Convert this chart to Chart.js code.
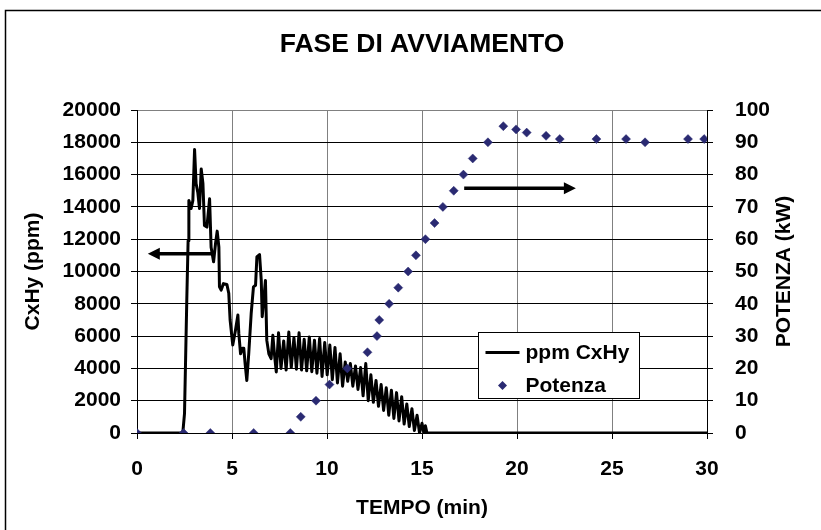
<!DOCTYPE html>
<html>
<head>
<meta charset="utf-8">
<script src="https://cdn.jsdelivr.net/npm/chart.js@4.4.1/dist/chart.umd.min.js"></script>
<style>
html,body{margin:0;padding:0;background:#fff;}
#wrap{width:821px;height:530px;position:relative;}
</style>
</head>
<body>
<div id="wrap"><canvas id="c" width="821" height="530"></canvas></div>
<script>
// ---------- DATA ----------
const chartTitle = 'FASE DI AVVIAMENTO';
const xAxisTitle = 'TEMPO (min)';
const leftAxisTitle = 'CxHy (ppm)';
const rightAxisTitle = 'POTENZA (kW)';
const ppmLabel = 'ppm CxHy';
const powerLabel = 'Potenza';

const ppmTime = [0, 2.41, 2.50, 2.55, 2.62, 2.69, 2.73, 2.85, 2.94, 3.03, 3.11, 3.20, 3.29, 3.38, 3.47, 3.55, 3.68, 3.82, 3.90,
  4.03, 4.13, 4.22, 4.31, 4.34, 4.43, 4.55, 4.73, 4.83, 4.90, 5.04, 5.18, 5.31, 5.36, 5.45, 5.55, 5.62, 5.69, 5.78, 5.88,
  6.01, 6.13, 6.24, 6.31, 6.45, 6.54, 6.59, 6.69, 6.76, 6.83, 6.94, 7.06, 7.15, 7.24, 7.33,
  7.45, 7.58, 7.72, 7.85, 7.99, 8.12, 8.26, 8.39, 8.53, 8.66, 8.80, 8.93, 9.07, 9.20, 9.34, 9.47, 9.61, 9.74, 9.88,
  10.01, 10.15, 10.28, 10.42, 10.55, 10.69, 10.82, 10.96, 11.09, 11.23, 11.36, 11.50, 11.63, 11.77, 11.90,
  12.04, 12.17, 12.31, 12.44, 12.58, 12.71, 12.85, 12.98, 13.12, 13.25, 13.39, 13.52, 13.66, 13.79, 13.93,
  14.06, 14.20, 14.33, 14.47, 14.60, 14.74, 14.87, 15.00, 15.10, 15.18, 15.26, 30];
const ppmValues = [0, 0, 1200, 4100, 8200, 11900, 14400, 13900, 14400, 17550, 15450, 14900, 13900, 16350, 15450, 12850, 12750, 14500, 11500,
  10600, 11700, 12500, 11500, 9050, 8850, 9250, 9200, 8650, 7000, 5450, 6350, 7300, 6150, 4900, 5250, 5250, 4300, 3250, 4900,
  7400, 9050, 9150, 10900, 11050, 9450, 7200, 8500, 9450, 5750, 4900, 4600, 6050, 4800, 3780,
  6200, 4000, 5700, 3900, 6250, 4050, 5900, 3950, 6200, 3900, 5800, 3850, 5950, 3800, 5750, 3700, 5850, 3500, 5600,
  3600, 5450, 3300, 5300, 3100, 4900, 2900, 4400, 3200, 4300, 2900, 4150, 2700, 4050, 2300,
  4300, 2000, 3600, 1900, 3250, 1650, 3000, 1400, 2800, 1100, 2650, 900, 2500, 750, 2250,
  550, 1800, 400, 1500, 150, 1100, 0, 600, 0, 450, 0, 0];

const powerTime = [0, 2.45, 3.86, 6.14, 8.07, 8.62, 9.42, 10.13, 11.07, 12.13, 12.63, 12.75, 13.27, 13.75, 14.27, 14.68,
  15.18, 15.66, 16.10, 16.67, 17.18, 17.67, 18.47, 19.28, 19.95, 20.51, 21.53, 22.25, 24.18, 25.74, 26.74, 29.0, 29.85];
const powerValues = [0, 0, 0, 0, 0, 5, 10, 15, 20, 25, 30, 35, 40, 45, 50, 55,
  60, 65, 70, 75, 80, 85, 90, 95, 94, 93, 92, 91, 91, 91, 90, 91, 91];

const xTicks = {min: 0, max: 30, step: 5};
const leftTicks = {min: 0, max: 20000, step: 2000};
const rightTicks = {min: 0, max: 100, step: 10};

// annotation arrows (data units)
const arrows = [
  {axis: 'y', from: 4.08, to: 0.57, value: 11100},
  {axis: 'y1', from: 17.22, to: 23.1, value: 75.8}
];

// ---------- CHART ----------
const FONT = '"Liberation Sans", Arial, sans-serif';
Chart.defaults.font.family = FONT;
Chart.defaults.font.weight = 'bold';
Chart.defaults.color = '#000';

const BLUE = '#2A2A72';

const overlay = {
  id: 'overlay',
  beforeDraw(chart) {
    const ctx = chart.ctx;
    ctx.save();
    ctx.fillStyle = '#fff';
    ctx.fillRect(0, 0, chart.width, chart.height);
    ctx.strokeStyle = '#000';
    ctx.lineWidth = 1.5;
    ctx.beginPath();
    ctx.moveTo(5.5, chart.height);
    ctx.lineTo(5.5, 10.5);
    ctx.lineTo(chart.width, 10.5);
    ctx.stroke();
    ctx.restore();
  },
  afterDraw(chart) {
    const ctx = chart.ctx;
    const ca = chart.chartArea;
    ctx.save();
    ctx.font = 'bold 21px ' + FONT;
    ctx.fillStyle = '#000';
    ctx.textAlign = 'center';
    ctx.textBaseline = 'middle';
    ctx.translate(784, (ca.top + ca.bottom) / 2);
    ctx.rotate(-Math.PI / 2);
    ctx.fillText(rightAxisTitle, 0, 0);
    ctx.restore();
  },
  afterDatasetsDraw(chart) {
    const ctx = chart.ctx;
    const xs = chart.scales.x;
    ctx.save();
    arrows.forEach(a => {
      const s = chart.scales[a.axis];
      const x1 = xs.getPixelForValue(a.from);
      const x2 = xs.getPixelForValue(a.to);
      const y = s.getPixelForValue(a.value);
      const dir = Math.sign(x2 - x1);
      ctx.strokeStyle = '#000';
      ctx.lineWidth = 3.5;
      ctx.beginPath();
      ctx.moveTo(x1, y);
      ctx.lineTo(x2 - dir * 10, y);
      ctx.stroke();
      ctx.fillStyle = '#000';
      ctx.beginPath();
      ctx.moveTo(x2, y);
      ctx.lineTo(x2 - dir * 12, y - 6);
      ctx.lineTo(x2 - dir * 12, y + 6);
      ctx.closePath();
      ctx.fill();
    });
    const ca = chart.chartArea;
    const lx = ca.left + 341.5, ly = ca.top + 222.5, lw = 161, lh = 66;
    ctx.fillStyle = '#fff';
    ctx.fillRect(lx, ly, lw, lh);
    ctx.strokeStyle = '#000';
    ctx.lineWidth = 1;
    ctx.strokeRect(lx, ly, lw, lh);
    const ds = chart.data.datasets;
    const lineDs = ds.find(d => d.type === 'line');
    const ptDs = ds.find(d => d.type === 'scatter');
    ctx.font = 'bold 21px ' + FONT;
    ctx.textBaseline = 'middle';
    ctx.textAlign = 'left';
    ctx.fillStyle = '#000';
    const r1 = ly + 20;
    ctx.strokeStyle = lineDs.borderColor;
    ctx.lineWidth = lineDs.borderWidth;
    ctx.beginPath();
    ctx.moveTo(lx + 7, r1);
    ctx.lineTo(lx + 41, r1);
    ctx.stroke();
    ctx.fillText(lineDs.label, lx + 47, r1 + 1);
    const r2 = ly + 53;
    ctx.fillStyle = ptDs.backgroundColor;
    ctx.beginPath();
    ctx.moveTo(lx + 24, r2 - 4.5);
    ctx.lineTo(lx + 28.5, r2);
    ctx.lineTo(lx + 24, r2 + 4.5);
    ctx.lineTo(lx + 19.5, r2);
    ctx.closePath();
    ctx.fill();
    ctx.fillStyle = '#000';
    ctx.fillText(ptDs.label, lx + 47, r2 + 1);
    ctx.restore();
  }
};

const plainTick = v => String(v);

new Chart(document.getElementById('c'), {
  data: {
    datasets: [
      {
        type: 'scatter',
        label: powerLabel,
        data: powerTime.map((t, i) => ({x: t, y: powerValues[i]})),
        yAxisID: 'y1',
        pointStyle: 'rectRot',
        pointRadius: 4.5,
        pointBorderWidth: 0.5,
        backgroundColor: BLUE,
        borderColor: BLUE,
        order: 0
      },
      {
        type: 'line',
        label: ppmLabel,
        data: ppmTime.map((t, i) => ({x: t, y: ppmValues[i]})),
        yAxisID: 'y',
        borderColor: '#000',
        borderWidth: 3,
        borderJoinStyle: 'round',
        pointRadius: 0,
        tension: 0,
        order: 1
      }
    ]
  },
  options: {
    responsive: false,
    animation: false,
    layout: {padding: 0},
    plugins: {
      legend: {display: false},
      tooltip: {enabled: false},
      title: {
        display: true,
        text: chartTitle,
        fullSize: false,
        font: {size: 26.5, weight: 'bold', family: FONT},
        color: '#000',
        padding: {top: 29.1, bottom: 49.1}
      }
    },
    scales: {
      x: {
        type: 'linear',
        position: 'bottom',
        min: xTicks.min, max: xTicks.max,
        ticks: {stepSize: xTicks.step, font: {size: 21, weight: 'bold'}, padding: 18, color: '#000', callback: plainTick},
        grid: {color: '#808080', tickLength: 6, tickColor: '#000', lineWidth: 1},
        border: {color: '#000', width: 1},
        title: {display: true, text: xAxisTitle, font: {size: 21, weight: 'bold'}, color: '#000', padding: {top: 0, bottom: 9.4}},
        afterFit(s) { s.height = 97; }
      },
      y: {
        type: 'linear',
        position: 'left',
        min: leftTicks.min, max: leftTicks.max,
        ticks: {stepSize: leftTicks.step, font: {size: 21, weight: 'bold'}, padding: 10, color: '#000', callback: plainTick},
        grid: {
          color: c => (c.tick && c.tick.value === leftTicks.max) ? '#808080' : '#000',
          tickColor: '#000', tickLength: 6, lineWidth: 1
        },
        border: {color: '#000', width: 1},
        title: {display: true, text: leftAxisTitle, font: {size: 21, weight: 'bold'}, color: '#000', padding: {top: 20.4, bottom: 0}},
        afterFit(s) { s.width = 137; }
      },
      y1: {
        type: 'linear',
        position: 'right',
        min: rightTicks.min, max: rightTicks.max,
        ticks: {stepSize: rightTicks.step, font: {size: 21, weight: 'bold'}, padding: 22, color: '#000', callback: plainTick},
        grid: {drawOnChartArea: false, tickColor: '#000', tickLength: 6},
        border: {color: '#000', width: 1},
        title: {display: false, text: rightAxisTitle},
        afterFit(s) { s.width = 114; }
      }
    }
  },
  plugins: [overlay]
});
</script>
</body>
</html>
